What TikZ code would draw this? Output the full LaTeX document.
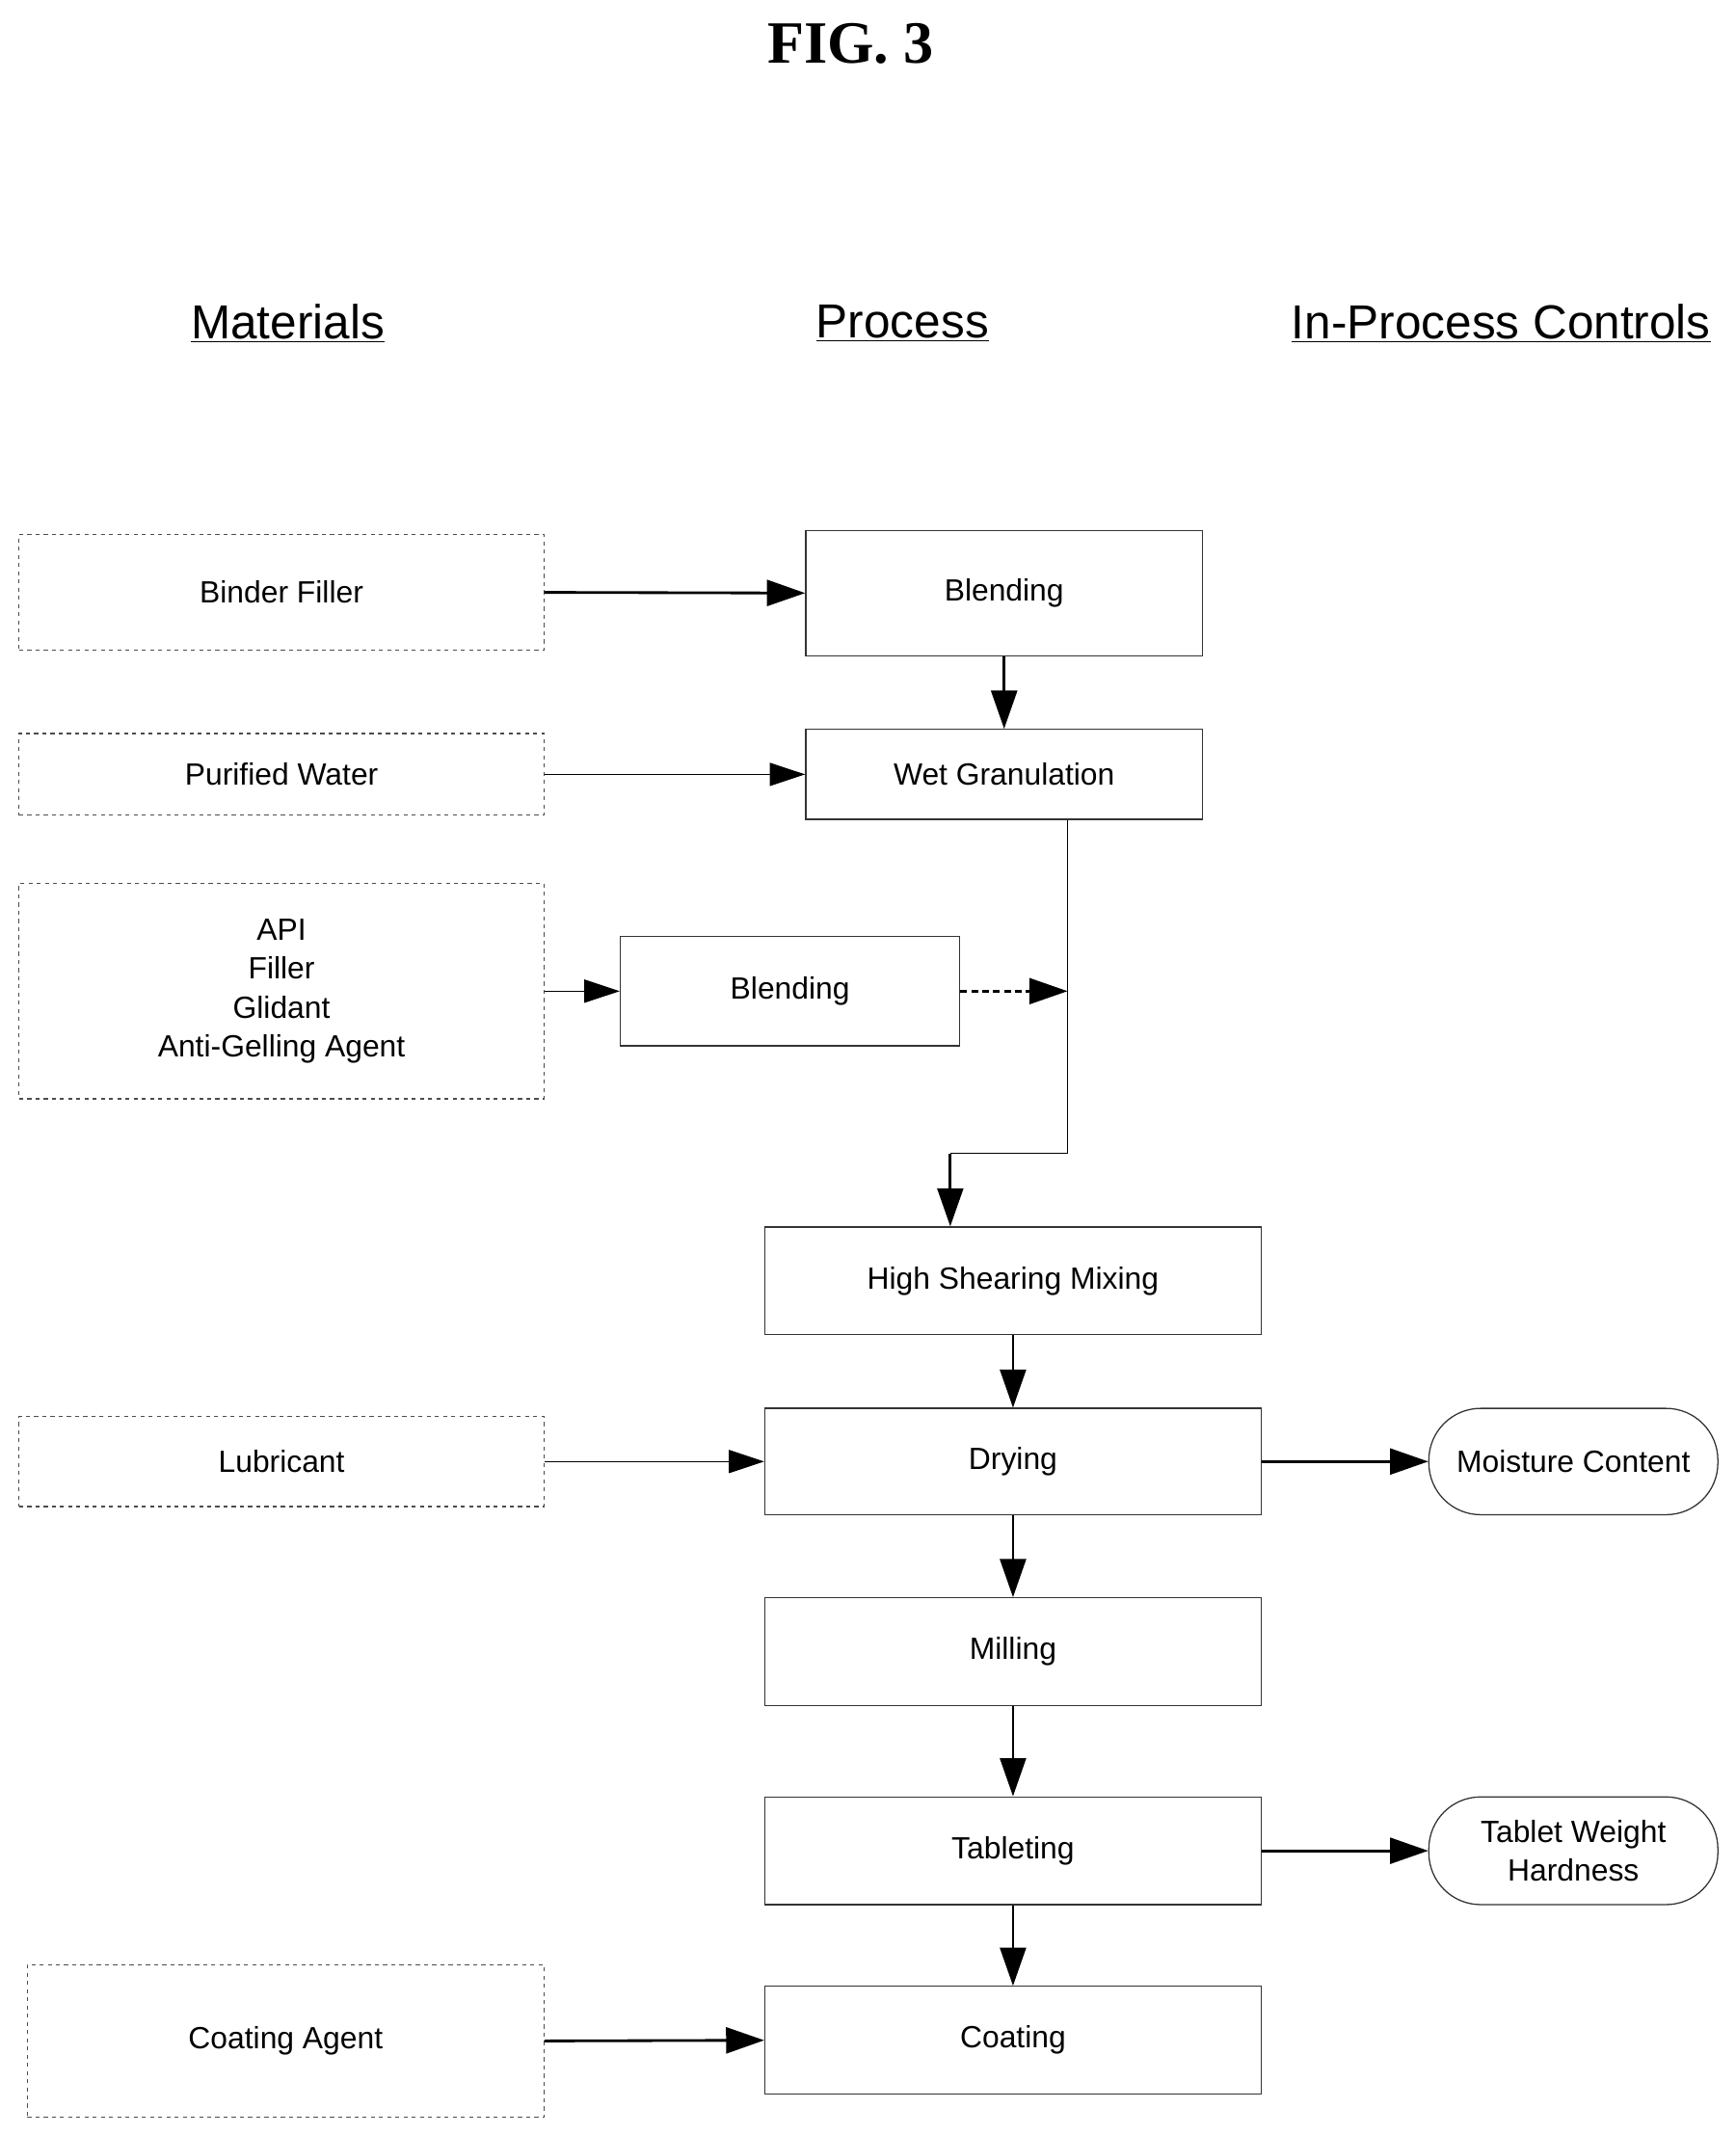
\documentclass[tikz,border=0pt]{standalone}
\usepackage{fontspec}
\setmainfont{Liberation Sans}
\newfontfamily\serifb{Liberation Serif}
\usetikzlibrary{arrows.meta,calc}
\begin{document}
\begin{tikzpicture}[x=1pt,y=-1pt,
  txt/.style={font=\fontsize{22.5}{28.5}\selectfont, align=center},
  mat/.style={draw=black!70, dashed, line width=0.8pt, txt},
  proc/.style={draw=black!80, line width=0.9pt, txt},
  ctrl/.style={draw=black!80, line width=0.9pt, rounded corners=38pt, txt},
  head/.style={font=\fontsize{35}{40}\selectfont},
  thin/.style={line width=0.8pt, -{Triangle[length=26pt,width=17pt]}},
  thick/.style={line width=2pt, -{Triangle[length=28pt,width=19pt]}},
  dsh/.style={line width=1.8pt, dash pattern=on 5pt off 3pt, -{Triangle[length=28pt,width=19pt]}}]
\useasboundingbox (0,0) rectangle (1273,1566);
\node (fig) at (624,32) {\serifb\bfseries\fontsize{44}{50}\selectfont FIG. 3};
\node[head] (h1) at (211,237) {\underline{Materials}};
\node[head] (h2) at (662,237) {\underline{Process}};
\node[head] (h3) at (1101,237) {\underline{In-Process Controls}};
% materials
\node[mat, minimum width=385pt, minimum height=85pt] (bf) at (206.5,434.5) {Binder Filler};
\node[mat, minimum width=385pt, minimum height=60pt] (pw) at (206.5,568) {Purified Water};
\node[mat, minimum width=385pt, minimum height=158pt] (api) at (206.5,727) {API\\Filler\\Glidant\\Anti-Gelling Agent};
\node[mat, minimum width=385pt, minimum height=66pt] (lub) at (206.5,1072) {Lubricant};
\node[mat, minimum width=379pt, minimum height=112pt] (ca) at (209.5,1497) {Coating Agent};
% process
\node[proc, minimum width=291pt, minimum height=92pt] (b1) at (736.5,435) {Blending};
\node[proc, minimum width=291pt, minimum height=66pt] (wg) at (736.5,568) {Wet Granulation};
\node[proc, minimum width=249pt, minimum height=80pt] (b2) at (579.5,727) {Blending};
\node[proc, minimum width=364pt, minimum height=79pt] (hs) at (743,939.5) {High Shearing Mixing};
\node[proc, minimum width=364pt, minimum height=78pt] (dr) at (743,1072) {Drying};
\node[proc, minimum width=364pt, minimum height=79pt] (mi) at (743,1211.5) {Milling};
\node[proc, minimum width=364pt, minimum height=79pt] (tb) at (743,1357.5) {Tableting};
\node[proc, minimum width=364pt, minimum height=79pt] (co) at (743,1496.5) {Coating};
% controls
\node[ctrl, minimum width=212pt, minimum height=78pt] (mc) at (1154,1072) {Moisture Content};
\node[ctrl, minimum width=212pt, minimum height=79pt] (tw) at (1154,1357.5) {Tablet Weight\\Hardness};
% connectors
\coordinate (j1) at (783,727);
\coordinate (j2) at (783,846);
\coordinate (j3) at (697,846);
\draw[thick] (bf.east) -- (b1.west);
\draw[thick] (b1.south) -- (wg.north);
\draw[thin] (pw.east) -- (wg.west);
\draw[line width=0.9pt] (wg.south -| j1) -- (j2) -- (j3);
\draw[thick] (j3) -- (j3 |- hs.north);
\draw[thin] (api.east) -- (b2.west);
\draw[dsh] (b2.east) -- (j1);
\draw[thick] (hs.south) -- (dr.north);
\draw[thin] (lub.east) -- (dr.west);
\draw[thick] (dr.east) -- (mc.west);
\draw[thick] (dr.south) -- (mi.north);
\draw[thick] (mi.south) -- (tb.north);
\draw[thick] (tb.south) -- (co.north);
\draw[thick] (tb.east) -- (tw.west);
\draw[thick] (ca.east) -- (co.west);
\end{tikzpicture}
\end{document}
